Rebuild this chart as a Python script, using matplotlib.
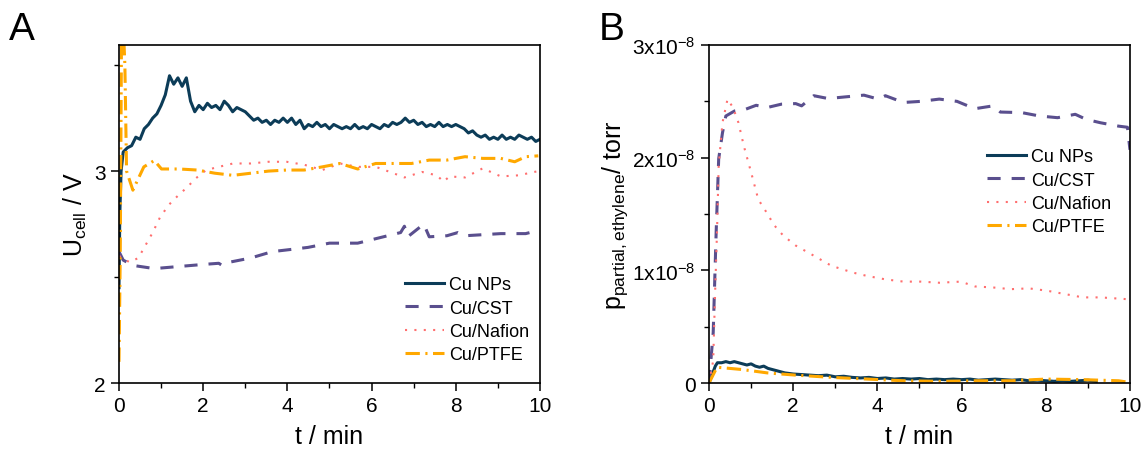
import numpy as np
import matplotlib
matplotlib.use("Agg")
import matplotlib.pyplot as plt
from matplotlib.ticker import MultipleLocator

plt.rcParams["font.family"] = ["Liberation Sans", "DejaVu Sans"]
plt.rcParams["mathtext.fontset"] = "custom"
plt.rcParams["mathtext.rm"] = "Liberation Sans"
plt.rcParams["mathtext.it"] = "Liberation Sans:italic"

# ── colours / labels ─────────────────────────────────────────────
C_NP, C_CST, C_NAF, C_PTFE = "#0c3c58", "#5a4f8e", "#ff6f6f", "#ffa800"
labels = ["Cu NPs", "Cu/CST", "Cu/Nafion", "Cu/PTFE"]

# ── panel A: cell voltage (V) ────────────────────────────────────
tA_np = [0, 0.02, 0.05] + [round(0.1 * i, 1) for i in range(1, 101)]
uA_np = [2.45, 2.80, 3.00,
         3.09, 3.11, 3.12, 3.16, 3.15, 3.20, 3.22, 3.25, 3.27, 3.31,
         3.36, 3.45, 3.41, 3.44, 3.40, 3.44, 3.33, 3.28, 3.31, 3.29,
         3.32, 3.30, 3.31, 3.29, 3.33, 3.31, 3.28, 3.30, 3.29, 3.28,
         3.26, 3.24, 3.25, 3.23, 3.24, 3.22, 3.24, 3.23, 3.25, 3.23,
         3.25, 3.22, 3.24, 3.20, 3.22, 3.21, 3.23, 3.21, 3.22, 3.20,
         3.22, 3.21, 3.20, 3.21, 3.20, 3.22, 3.20, 3.21, 3.20, 3.22,
         3.21, 3.20, 3.22, 3.21, 3.23, 3.22, 3.23, 3.25, 3.23, 3.24,
         3.22, 3.23, 3.21, 3.22, 3.21, 3.23, 3.21, 3.22, 3.21, 3.22,
         3.21, 3.20, 3.18, 3.19, 3.17, 3.16, 3.17, 3.15, 3.16, 3.15,
         3.17, 3.15, 3.16, 3.15, 3.17, 3.16, 3.15, 3.16, 3.14, 3.15]

tA_cst = [0, 0.1, 0.33, 0.84, 1.43, 2.03, 2.37, 2.45, 2.62, 3.13, 3.64, 4.07,
          4.49, 5.0, 5.67, 6.18, 6.69, 6.78, 6.86, 7.24, 7.37, 7.79, 8.05,
          8.22, 9.07, 9.66, 9.96]
uA_cst = [2.62, 2.58, 2.555, 2.54, 2.55, 2.56, 2.565, 2.555, 2.57, 2.59, 2.62,
          2.63, 2.64, 2.66, 2.66, 2.685, 2.71, 2.74, 2.69, 2.75, 2.69, 2.695,
          2.71, 2.695, 2.705, 2.705, 2.72]

tA_naf = [0, 0.25, 0.46, 0.63, 0.80, 0.97, 1.18, 1.43, 1.60, 1.82, 2.07, 2.37,
          2.71, 3.13, 3.55, 3.98, 4.40, 4.83, 5.25, 5.67, 6.10, 6.52, 6.78,
          7.20, 7.55, 7.71, 7.85, 8.22, 8.64, 9.07, 9.49, 9.96]
uA_naf = [2.60, 2.57, 2.59, 2.65, 2.71, 2.78, 2.84, 2.89, 2.92, 2.965, 3.005,
          3.02, 3.036, 3.036, 3.044, 3.044, 3.03, 3.005, 3.036, 3.02, 3.02,
          2.99, 2.97, 2.996, 2.98, 2.95, 2.975, 2.97, 3.013, 2.975, 2.98, 3.0]

tA_ptfe = [0, 0.03, 0.06, 0.10, 0.14, 0.18, 0.33, 0.59, 0.84, 1.01, 1.43, 1.86,
           2.28, 2.71, 3.13, 3.55, 3.98, 4.40, 4.83, 5.25, 5.67, 6.10, 6.52,
           6.95, 7.37, 7.79, 8.22, 8.64, 9.07, 9.40, 9.66, 9.96]
uA_ptfe = [2.10, 2.60, 3.65, 3.70, 3.50, 3.00, 2.91, 3.02, 3.05, 3.01, 3.01,
           3.005, 2.99, 2.98, 2.99, 3.0, 3.005, 3.005, 3.02, 3.036, 3.01,
           3.036, 3.036, 3.036, 3.052, 3.052, 3.068, 3.06, 3.06, 3.044,
           3.068, 3.072]

# ── panel B: ethylene partial pressure (units of 1e-8 torr) ──────
tB_np = [0, 0.15, 0.2, 0.3, 0.4, 0.5, 0.6, 0.7, 0.8, 0.9, 1.0, 1.1, 1.2, 1.3,
         1.4, 1.5, 1.6, 1.7, 1.8, 1.9, 2.0, 2.2, 2.4, 2.6, 2.8, 3.0, 3.2, 3.4,
         3.6, 3.8, 4.0, 4.2, 4.4, 4.6, 4.8, 5.0, 5.2, 5.4, 5.6, 5.8, 6.0, 6.2,
         6.4, 6.6, 6.8, 7.0, 7.2, 7.4, 7.6, 7.8, 8.0, 8.2, 8.4, 8.6, 8.8, 9.0,
         9.2]
pB_np = [0, 0.15, 0.18, 0.18, 0.19, 0.18, 0.19, 0.18, 0.17, 0.16, 0.17, 0.15,
         0.14, 0.15, 0.13, 0.12, 0.11, 0.10, 0.09, 0.085, 0.08, 0.075, 0.07,
         0.065, 0.07, 0.055, 0.06, 0.05, 0.045, 0.05, 0.04, 0.045, 0.035,
         0.04, 0.035, 0.04, 0.03, 0.035, 0.03, 0.035, 0.03, 0.035, 0.025,
         0.03, 0.035, 0.03, 0.025, 0.03, 0.02, 0.025, 0.02, 0.015, 0.02,
         0.015, 0.02, 0.025, 0.015]

tB_cst = [0, 0.1, 0.17, 0.23, 0.32, 0.40, 0.61, 0.87, 1.12, 1.38, 1.72, 2.06,
          2.2, 2.49, 2.83, 3.25, 3.68, 4.02, 4.19, 4.62, 5.04, 5.47, 5.89,
          6.15, 6.32, 6.75, 6.92, 7.43, 7.85, 8.28, 8.70, 8.96, 9.30, 9.73,
          9.94, 10.0]
pB_cst = [0, 0.45, 1.34, 1.99, 2.22, 2.37, 2.415, 2.43, 2.465, 2.445, 2.475,
          2.48, 2.46, 2.55, 2.525, 2.54, 2.555, 2.52, 2.55, 2.49, 2.50, 2.52,
          2.50, 2.46, 2.435, 2.46, 2.405, 2.40, 2.37, 2.355, 2.385, 2.34,
          2.31, 2.28, 2.27, 2.07]

tB_naf = [0, 0.10, 0.14, 0.19, 0.23, 0.32, 0.44, 0.57, 0.70, 0.83, 1.0, 1.17,
          1.34, 1.55, 1.76, 2.06, 2.49, 2.91, 3.42, 3.76, 4.19, 4.62, 5.04,
          5.47, 5.98, 6.32, 6.75, 7.17, 7.60, 8.02, 8.45, 8.88, 9.30, 9.90]
pB_naf = [0, 0.20, 0.74, 1.34, 1.93, 2.31, 2.52, 2.445, 2.31, 2.10, 1.87,
          1.63, 1.53, 1.40, 1.31, 1.22, 1.13, 1.04, 0.98, 0.95, 0.92, 0.90,
          0.90, 0.89, 0.90, 0.857, 0.848, 0.833, 0.84, 0.82, 0.79, 0.76,
          0.76, 0.745]

tB_ptfe = [0, 0.19, 0.78, 1.38, 2.06, 2.91, 3.76, 4.62, 5.47, 6.32, 7.17,
           8.0, 8.88, 9.73, 10.0]
pB_ptfe = [0, 0.14, 0.12, 0.09, 0.07, 0.05, 0.035, 0.02, 0.015, 0.02, 0.02,
           0.035, 0.03, 0.02, 0.005]

# ── line styles ──────────────────────────────────────────────────
st_np = dict(color=C_NP, lw=2.2, ls="-")
st_cst = dict(color=C_CST, lw=2.2, ls=(0, (4.3, 3.6)))
st_naf = dict(color=C_NAF, lw=1.5, ls=(0, (1, 3.5)))
st_ptfe = dict(color=C_PTFE, lw=2.2, ls=(0, (4.7, 1.8, 0.7, 1.8)))

leg_kw = dict(loc="upper left", frameon=False, fontsize=13, handlelength=2.15,
              labelspacing=0.35, handletextpad=0.3, borderpad=0,
              borderaxespad=0)

fig = plt.figure(figsize=(11.43, 4.52), dpi=100)
axA = fig.add_axes([0.1041, 0.1504, 0.3683, 0.7478])
axB = fig.add_axes([0.6203, 0.1504, 0.3683, 0.7478])


def style_axis(ax):
    ax.set_xlim(0, 10)
    ax.xaxis.set_major_locator(MultipleLocator(2))
    ax.xaxis.set_minor_locator(MultipleLocator(1))
    ax.tick_params(which="both", direction="out", top=False, right=False)
    ax.tick_params(which="major", length=6, width=1.1, labelsize=15)
    ax.tick_params(which="minor", length=3.5, width=1.0)
    for s in ax.spines.values():
        s.set_linewidth(1.2)
    ax.set_xlabel("t / min", fontsize=18, labelpad=6)


# panel A
axA.plot(tA_np, uA_np, label=labels[0], **st_np)
axA.plot(tA_cst, uA_cst, label=labels[1], **st_cst)
axA.plot(tA_naf, uA_naf, label=labels[2], **st_naf)
axA.plot(tA_ptfe, uA_ptfe, label=labels[3], **st_ptfe)
style_axis(axA)
axA.set_ylim(2, 3.595)
axA.set_yticks([2, 3])
axA.yaxis.set_minor_locator(MultipleLocator(0.5))
axA.set_ylabel(r"U$_{\mathregular{cell}}$ / V", fontsize=18, labelpad=4)
axA.legend(bbox_to_anchor=(0.679, 0.316), **leg_kw)

# panel B
sc = 1e-8
axB.plot(tB_np, np.array(pB_np) * sc, label=labels[0], **st_np)
axB.plot(tB_cst, np.array(pB_cst) * sc, label=labels[1], **st_cst)
axB.plot(tB_naf, np.array(pB_naf) * sc, label=labels[2], **st_naf)
axB.plot(tB_ptfe, np.array(pB_ptfe) * sc, label=labels[3], **st_ptfe)
style_axis(axB)
axB.set_ylim(0, 3e-8)
axB.set_yticks([0, 1e-8, 2e-8, 3e-8])
axB.set_yticklabels(["0", r"1x10$^{-8}$", r"2x10$^{-8}$", r"3x10$^{-8}$"])
axB.yaxis.set_minor_locator(MultipleLocator(0.5e-8))
axB.yaxis.get_offset_text().set_visible(False)
axB.set_ylabel(r"p$_{\mathregular{partial,ethylene}}$/ torr", fontsize=18,
               labelpad=2)
axB.legend(bbox_to_anchor=(0.660, 0.694), **leg_kw)

fig.text(0.008, 0.912, "A", fontsize=28)
fig.text(0.524, 0.912, "B", fontsize=28)

fig.savefig("out.png", dpi=100)
